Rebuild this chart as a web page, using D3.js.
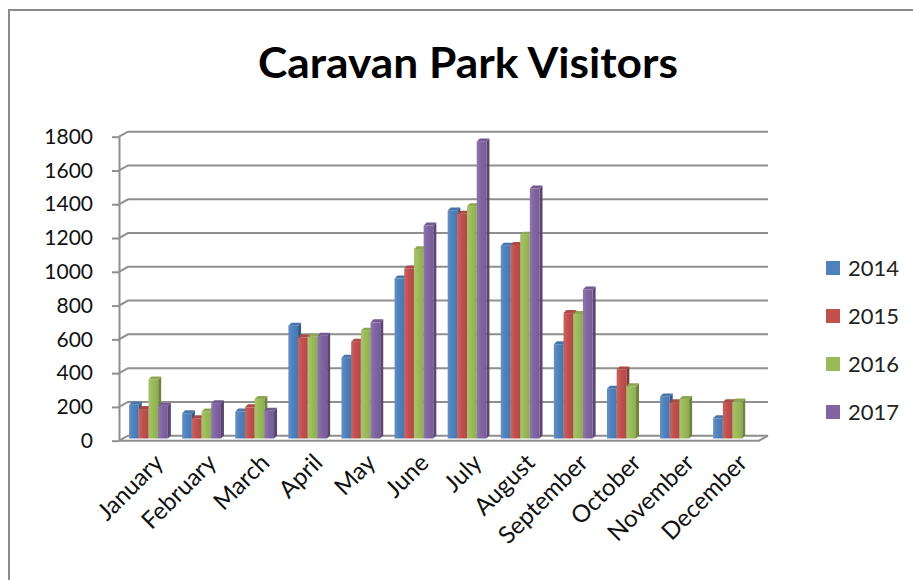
<!DOCTYPE html>
<html>
<head>
<meta charset="utf-8">
<script src="https://cdn.jsdelivr.net/npm/d3@7"></script>
<style>
  body { margin: 0; background: #fff; }
  svg text { font-family: Lato, "Open Sans", sans-serif; }
</style>
</head>
<body>
<div id="chart"></div>
<script>
// data
var months = ["January","February","March","April","May","June",
              "July","August","September","October","November","December"];
var years = ["2014","2015","2016","2017"];
var v2014 = [200, 150, 160, 670, 480, 950, 1355, 1145, 560, 295, 250, 120];
var v2015 = [175, 120, 185, 600, 575, 1010, 1335, 1150, 745, 410, 215, 215];
var v2016 = [350, 160, 235, 605, 640, 1125, 1380, 1210, 740, 310, 235, 220];
var v2017 = [195, 210, 165, 610, 690, 1265, 1765, 1485, 885, null, null, null];
var yTicks = [0, 200, 400, 600, 800, 1000, 1200, 1400, 1600, 1800];
var colors = ["#4F81BD", "#C0504D", "#9BBB59", "#8064A2"];

var series = [v2014, v2015, v2016, v2017];

var W = 913, H = 580;
// plot frame (front edge of the floor / wall)
var X0 = 119, X1 = 759;
var DX = 9, DY = -5;      // depth of the floor
var BDX = 3, BDY = -3;    // depth of a bar

var svg = d3.select("#chart").append("svg")
    .attr("width", W).attr("height", H);

var defs = svg.append("defs");
colors.forEach(function(c, i) {
    var g = defs.append("linearGradient").attr("id", "grad" + i)
        .attr("x1", "0%").attr("x2", "100%").attr("y1", "0%").attr("y2", "0%");
    g.append("stop").attr("offset", "0%").attr("stop-color", d3.interpolateRgb(c, "#fff")(0.12));
    g.append("stop").attr("offset", "45%").attr("stop-color", c);
    g.append("stop").attr("offset", "100%").attr("stop-color", d3.interpolateRgb(c, "#000")(0.08));
});

// outer border
svg.append("path")
    .attr("d", "M9 " + H + " L9 10 L" + W + " 10")
    .attr("fill", "none").attr("stroke", "#8c8c8c").attr("stroke-width", 2);

// title
svg.append("text")
    .attr("x", 468).attr("y", 78)
    .attr("text-anchor", "middle")
    .attr("font-size", 42).attr("font-weight", "bold")
    .attr("textLength", 420).attr("lengthAdjust", "spacingAndGlyphs")
    .attr("fill", "#000")
    .text("Caravan Park Visitors");

var yFront = d3.scaleLinear().domain([0, 1800]).range([440.7, 136.7]);
var yBar = d3.scaleLinear().domain([0, 1800]).range([438.5, 135.5]);
var x = d3.scaleBand().domain(months).range([X0, 762])
    .paddingInner(0.27).paddingOuter(0.19);
var w = x.bandwidth() / 4;

// back wall gridlines + wall diagonals
var grid = svg.append("g").attr("stroke", "#8f8f8f").attr("stroke-width", 2).attr("fill", "none");
grid.selectAll(".grid").data(yTicks).enter().append("path")
    .attr("class", "grid")
    .attr("d", function(d) {
        var y = yFront(d);
        return "M" + X0 + " " + y + " L" + (X0 + DX) + " " + (y + DY) + " L" + (X1 + DX) + " " + (y + DY);
    });
// floor
grid.append("path")
    .attr("d", "M" + X0 + " " + yFront(0) + " L" + X1 + " " + yFront(0) +
               " L" + (X1 + DX) + " " + (yFront(0) + DY));

// y axis
var yAxis = d3.axisLeft(yFront).tickValues(yTicks).tickFormat(d3.format("d"))
    .tickSize(7).tickSizeOuter(0).tickPadding(19);
var ya = svg.append("g").attr("transform", "translate(" + X0 + ",0)").call(yAxis);
ya.selectAll("path, line").attr("stroke", "#8f8f8f").attr("stroke-width", 2);
ya.selectAll("text").attr("font-size", 21).attr("fill", "#111")
    .style("font-family", "Lato, sans-serif");

// bars
var bars = svg.append("g");
months.forEach(function(m, mi) {
    series.forEach(function(s, si) {
        var v = s[mi];
        if (v == null) return;
        var x0 = x(m) + si * w, x1 = x0 + w;
        var top = yBar(v), bot = yBar(0);
        var c = colors[si];
        bars.append("polygon")
            .attr("points", [[x1, top], [x1 + BDX, top + BDY], [x1 + BDX, bot + BDY], [x1, bot]].join(" "))
            .attr("fill", d3.interpolateRgb(c, "#000")(0.3));
        bars.append("rect")
            .attr("x", x0).attr("y", top).attr("width", w).attr("height", bot - top)
            .attr("fill", "url(#grad" + si + ")");
        bars.append("polygon")
            .attr("points", [[x0, top], [x0 + BDX, top + BDY], [x1 + BDX, top + BDY], [x1, top]].join(" "))
            .attr("fill", d3.interpolateRgb(c, "#000")(0.1));
    });
});

// x axis labels
var xAxis = d3.axisBottom(x).tickSize(0).tickPadding(0);
var xa = svg.append("g").attr("transform", "translate(0,452)").call(xAxis);
xa.select(".domain").remove();
xa.selectAll("text")
    .attr("font-size", 24).attr("fill", "#111")
    .style("font-family", "Lato, sans-serif")
    .attr("text-anchor", "end")
    .attr("y", 0).attr("x", 0).attr("dy", "0.72em")
    .attr("transform", "translate(4,0) rotate(-45)");

// legend
var legend = svg.append("g").selectAll("g").data(years).enter().append("g")
    .attr("transform", function(d, i) { return "translate(826," + (268 + i * 48) + ")"; });
legend.append("rect")
    .attr("x", 0).attr("y", -7).attr("width", 14).attr("height", 14)
    .attr("fill", function(d, i) { return colors[i]; });
legend.append("text")
    .attr("x", 22).attr("y", 0).attr("dy", "0.36em")
    .attr("font-size", 22).attr("fill", "#222")
    .text(function(d) { return d; });
</script>
</body>
</html>
